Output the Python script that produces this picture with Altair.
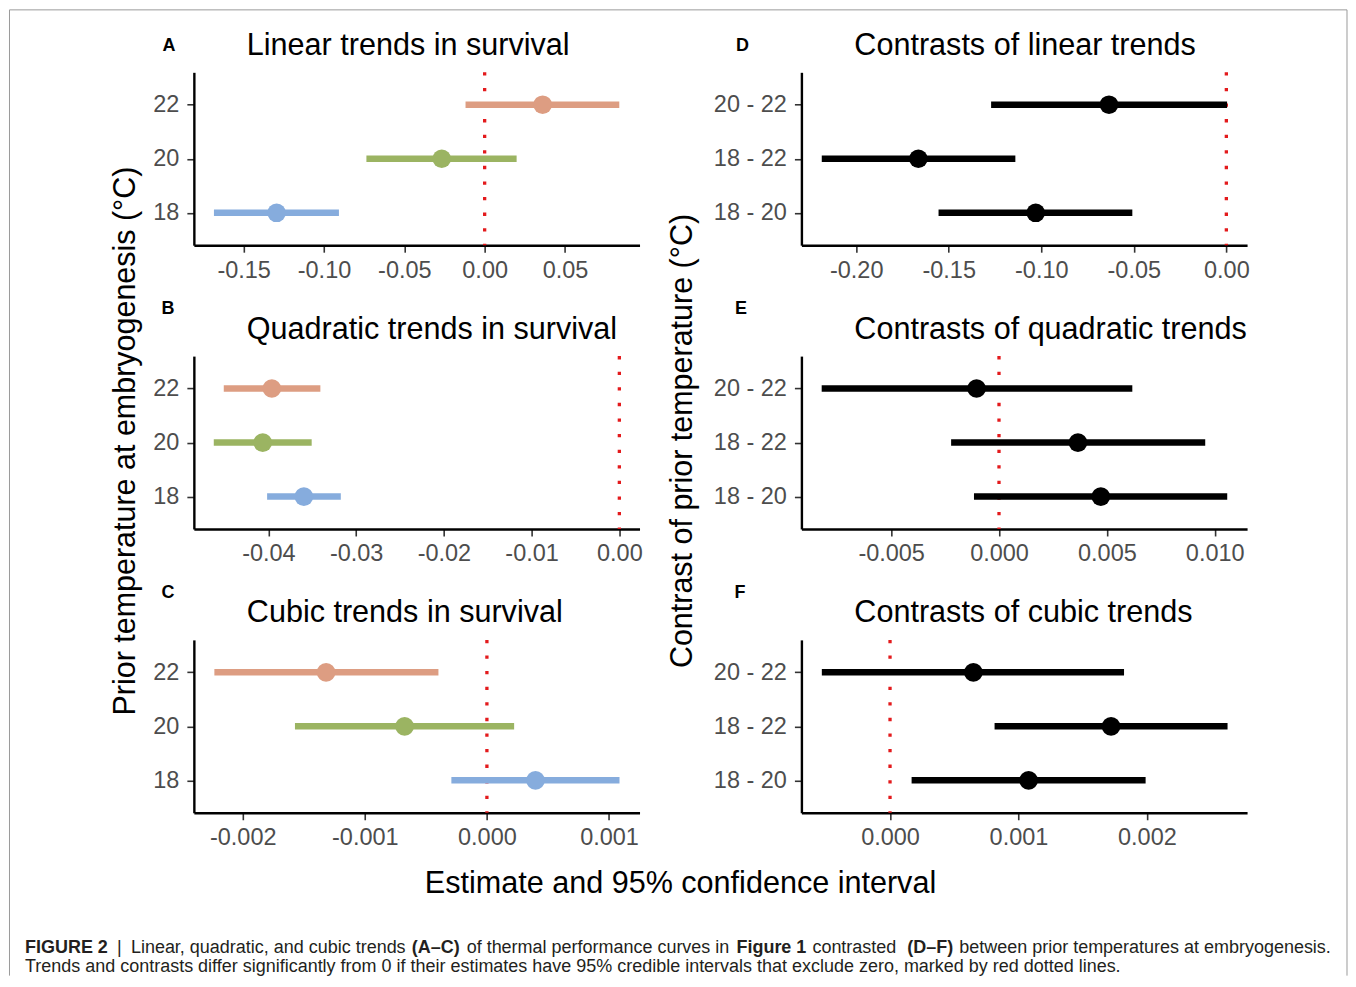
import altair as alt
import pandas as pd

FONT = "Liberation Sans"
RED = "#E31A1C"

# ---------------- data ----------------
temps = ["22", "20", "18"]
temp_colors = ["#DD9D82", "#9BB462", "#86ACDD"]
contrasts = ["20 - 22", "18 - 22", "18 - 20"]

# A  linear trends in survival
lin_est = [0.0361, -0.0267, -0.1295]
lin_lo = [-0.0119, -0.0736, -0.1685]
lin_hi = [0.0838, 0.0199, -0.0907]
# B  quadratic trends in survival
quad_est = [-0.03961, -0.04065, -0.03596]
quad_lo = [-0.04509, -0.04623, -0.04015]
quad_hi = [-0.03408, -0.03507, -0.03175]
# C  cubic trends in survival
cub_est = [-0.001317, -0.000674, 0.000398]
cub_lo = [-0.002232, -0.001572, -0.000291]
cub_hi = [-0.000397, 0.000223, 0.001086]
# D  contrasts of linear trends
clin_est = [-0.0634, -0.1664, -0.1030]
clin_lo = [-0.1271, -0.2186, -0.1555]
clin_hi = [0.0004, -0.1140, -0.0508]
# E  contrasts of quadratic trends
cquad_est = [-0.00104, 0.00366, 0.00472]
cquad_lo = [-0.00822, -0.00222, -0.00116]
cquad_hi = [0.00618, 0.00956, 0.01058]
# F  contrasts of cubic trends
ccub_est = [0.000649, 0.001721, 0.001079]
ccub_lo = [-0.000531, 0.000814, 0.000168]
ccub_hi = [0.001822, 0.002628, 0.001990]

# tick values
ticks_A = [-0.15, -0.10, -0.05, 0.0, 0.05]
ticks_B = [-0.04, -0.03, -0.02, -0.01, 0.0]
ticks_C = [-0.002, -0.001, 0.0, 0.001]
ticks_D = [-0.20, -0.15, -0.10, -0.05, 0.0]
ticks_E = [-0.005, 0.0, 0.005, 0.010]
ticks_F = [0.0, 0.001, 0.002]

# ---------------- layout ----------------
W, H = 446, 173
ORIG = {"A": (193, 71), "D": (801, 71), "B": (193, 355),
        "E": (801, 355), "C": (193, 639), "F": (801, 639)}

one = pd.DataFrame({"k": [0]})


def txt(text, px, py, origin, size, weight="normal", angle=0,
        align="left", baseline="alphabetic", color="black"):
    return alt.Chart(one).mark_text(
        text=text, fontSize=size, fontWeight=weight, angle=angle,
        align=align, baseline=baseline, font=FONT, color=color
    ).encode(x=alt.value(px - origin[0]), y=alt.value(py - origin[1]))


def rule(px1, py1, px2, py2, origin, color="#9a9a9a", width=1):
    return alt.Chart(one).mark_rule(color=color, strokeWidth=width).encode(
        x=alt.value(px1 - origin[0]), y=alt.value(py1 - origin[1]),
        x2=alt.value(px2 - origin[0]), y2=alt.value(py2 - origin[1]))


def panel(key, cats, est, lo, hi, colors, xdom, xticks, fmt, title, letter_pos, extra=()):
    origin = ORIG[key]
    df = pd.DataFrame({"cat": cats, "est": est, "lo": lo, "hi": hi})
    yaxis = alt.Axis(title=None, grid=False, domainColor="black", domainWidth=2.4,
                     tickColor="#333333", tickWidth=1.6, tickSize=7,
                     labelFontSize=23.5, labelColor="#4D4D4D", labelFont=FONT,
                     labelPadding=8)
    xaxis = alt.Axis(title=None, grid=False, values=xticks,
                     labelExpr="(datum.value < 0 ? '-' : '') + format(abs(datum.value), '%s')" % fmt,
                     domainColor="black", domainWidth=2.4,
                     tickColor="#333333", tickWidth=1.6, tickSize=7,
                     labelFontSize=23.5, labelColor="#4D4D4D", labelFont=FONT,
                     labelPadding=6, labelFlush=False, labelOverlap=False)
    y = alt.Y("cat:N", sort=cats, scale=alt.Scale(type="point", padding=0.6), axis=yaxis)
    xscale = alt.Scale(domain=xdom, nice=False, zero=False)
    if colors:
        color = alt.Color("cat:N", scale=alt.Scale(domain=cats, range=colors), legend=None)
    else:
        color = alt.value("black")
    zero = alt.Chart(one).mark_rule(color=RED, strokeWidth=3.3, strokeDash=[3.3, 12.3]).encode(
        x=alt.datum(0))
    bars = alt.Chart(df).mark_rule(strokeWidth=6.5, strokeCap="butt").encode(
        x=alt.X("lo:Q", scale=xscale, axis=xaxis), x2="hi:Q", y=y, color=color)
    pts = alt.Chart(df).mark_circle(size=350, opacity=1).encode(
        x=alt.X("est:Q", scale=xscale), y=y, color=color)
    ttl = txt(title, origin[0] + 53, origin[1] - 17.5, origin, 30.6)
    let = txt(key, letter_pos[0], letter_pos[1], origin, 18, weight="bold", align="center")
    layers = [zero, bars, pts, ttl, let] + [f(origin) for f in extra]
    return alt.layer(*layers).properties(width=W, height=H)


# global decorations (page coordinates)
BOTTOM = 975


def border(o):
    return alt.layer(rule(8.5, 8.5, 1347, 8.5, o), rule(8.5, 8.5, 8.5, BOTTOM, o),
                     rule(1347, 8.5, 1347, BOTTOM, o))


def ytitle_left(o):
    return txt("Prior temperature at embryogenesis (°C)", 134.5, 440, o, 30.5,
               angle=270, align="center")


def ytitle_right(o):
    return txt("Contrast of prior temperature (°C)", 691.5, 440, o, 30.5,
               angle=270, align="center")


def xtitle(o):
    return txt("Estimate and 95% confidence interval", 680, 892, o, 30.6, align="center")


CAP = "#231F20"
caption1 = [("FIGURE 2", 24, "bold"), ("|", 116, "normal"),
            ("Linear, quadratic, and cubic trends", 130, "normal"),
            ("(A–C)", 411, "bold"), ("of thermal performance curves in", 466, "normal"),
            ("Figure 1", 736, "bold"), ("contrasted", 812, "normal"),
            ("(D–F)", 907, "bold"),
            ("between prior temperatures at embryogenesis.", 959, "normal")]
caption2 = ("Trends and contrasts differ significantly from 0 if their estimates have 95% "
            "credible intervals that exclude zero, marked by red dotted lines.")


def caption(o):
    parts = [txt(t, x, 952, o, 18, weight=w, color=CAP) for t, x, w in caption1]
    parts.append(txt(caption2, 24, 971.5, o, 18, color=CAP))
    return alt.layer(*parts)


pA = panel("A", temps, lin_est, lin_lo, lin_hi, temp_colors, [-0.181, 0.0964], ticks_A, ".2f",
           "Linear trends in survival", (168, 50), extra=(border,))
pB = panel("B", temps, quad_est, quad_lo, quad_hi, temp_colors, [-0.0485, 0.0023], ticks_B, ".2f",
           "Quadratic trends in survival", (167, 313.3), extra=(ytitle_left,))
pC = panel("C", temps, cub_est, cub_lo, cub_hi, temp_colors, [-0.0024, 0.00125], ticks_C, ".3f",
           "Cubic trends in survival", (167, 597), extra=(xtitle, caption))
pD = panel("D", contrasts, clin_est, clin_lo, clin_hi, None, [-0.2296, 0.0112], ticks_D, ".2f",
           "Contrasts of linear trends", (742, 50))
pE = panel("E", contrasts, cquad_est, cquad_lo, cquad_hi, None, [-0.00916, 0.0115], ticks_E, ".3f",
           "Contrasts of quadratic trends", (740.5, 313.3), extra=(ytitle_right,))
pF = panel("F", contrasts, ccub_est, ccub_lo, ccub_hi, None, [-0.00069, 0.00278], ticks_F, ".3f",
           "Contrasts of cubic trends", (739.5, 596.7))

chart = alt.concat(pA, pD, pB, pE, pC, pF, columns=2,
                   spacing={"row": 111, "column": 162}, bounds="flush").properties(
    padding=0, background="white"
).configure_view(stroke="transparent")

chart.save("out.html", embed_options={"renderer": "svg", "actions": False})
